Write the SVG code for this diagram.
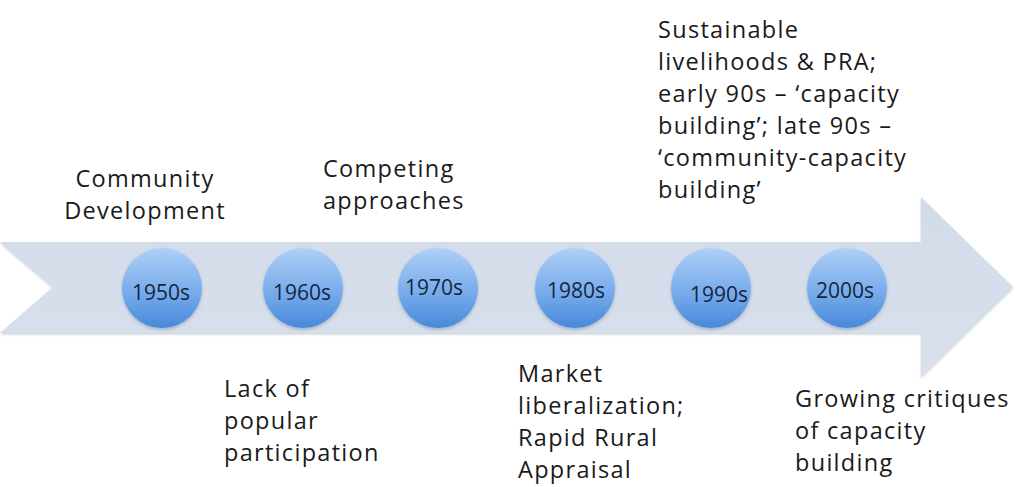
<svg xmlns="http://www.w3.org/2000/svg" width="1023" height="487" viewBox="0 0 1023 487">
  <style>
    .label { font-family: "Open Sans", "Liberation Sans", sans-serif; font-size: 23.5px; letter-spacing: 1.3px; fill: #1a1a1a; }
    .year { font-family: "Open Sans", "Liberation Sans", sans-serif; font-size: 21px; fill: #15263d; text-anchor: middle; }
    .dot { fill: url(#dotFill); filter: url(#dotShadow); }
  </style>
  <defs>
    <linearGradient id="arrowFill" x1="0" y1="0" x2="0" y2="1">
      <stop offset="0" stop-color="#d2dbe8"/>
      <stop offset="1" stop-color="#d8e0ec"/>
    </linearGradient>
    <linearGradient id="dotFill" x1="0" y1="0" x2="0" y2="1">
      <stop offset="0" stop-color="#aecff7"/>
      <stop offset="0.55" stop-color="#78aceb"/>
      <stop offset="1" stop-color="#4689d9"/>
    </linearGradient>
    <filter id="dotShadow" x="-20%" y="-20%" width="140%" height="150%">
      <feDropShadow dx="0" dy="2" stdDeviation="1.5" flood-color="#3a5070" flood-opacity="0.3"/>
    </filter>
    <filter id="arrowShadow" x="-5%" y="-10%" width="110%" height="125%">
      <feDropShadow dx="0" dy="1.5" stdDeviation="1" flood-color="#6b7a90" flood-opacity="0.35"/>
    </filter>
  </defs>

  <rect width="1023" height="487" fill="#ffffff"/>

  <!-- timeline arrow -->
  <g id="connectors">
    <polygon points="0,242 921,242 921,197 1013,287 921,377 921,333 0,333 53,287" fill="url(#arrowFill)" filter="url(#arrowShadow)"/>
  </g>

  <!-- decade markers -->
  <g id="d1950s">
    <circle class="dot" cx="162" cy="288" r="40"/>
    <text class="year" x="161" y="300">1950s</text>
  </g>
  <g id="d1960s">
    <circle class="dot" cx="303" cy="288" r="40"/>
    <text class="year" x="302" y="300">1960s</text>
  </g>
  <g id="d1970s">
    <circle class="dot" cx="438" cy="288" r="40"/>
    <text class="year" x="434" y="295">1970s</text>
  </g>
  <g id="d1980s">
    <circle class="dot" cx="575" cy="288" r="40"/>
    <text class="year" x="576" y="298">1980s</text>
  </g>
  <g id="d1990s">
    <circle class="dot" cx="711" cy="288" r="40"/>
    <text class="year" x="719" y="302">1990s</text>
  </g>
  <g id="d2000s">
    <circle class="dot" cx="847" cy="288" r="40"/>
    <text class="year" x="845" y="298">2000s</text>
  </g>

  <!-- era descriptions above the line -->
  <g id="community-development">
    <text class="label" text-anchor="middle"><tspan x="145" y="187">Community</tspan><tspan x="145" y="219">Development</tspan></text>
  </g>
  <g id="competing-approaches">
    <text class="label"><tspan x="323" y="177">Competing</tspan><tspan x="323" y="209">approaches</tspan></text>
  </g>
  <g id="sustainable-livelihoods">
    <text class="label">
      <tspan x="658" y="38">Sustainable</tspan>
      <tspan x="658" y="70">livelihoods &amp; PRA;</tspan>
      <tspan x="658" y="102">early 90s – ‘capacity</tspan>
      <tspan x="658" y="134">building’; late 90s –</tspan>
      <tspan x="658" y="166">‘community-capacity</tspan>
      <tspan x="658" y="198">building’</tspan>
    </text>
  </g>

  <!-- era descriptions below the line -->
  <g id="lack-of-participation">
    <text class="label"><tspan x="224" y="397">Lack of</tspan><tspan x="224" y="429">popular</tspan><tspan x="224" y="461">participation</tspan></text>
  </g>
  <g id="market-liberalization">
    <text class="label"><tspan x="518" y="382">Market</tspan><tspan x="518" y="414">liberalization;</tspan><tspan x="518" y="446">Rapid Rural</tspan><tspan x="518" y="478">Appraisal</tspan></text>
  </g>
  <g id="growing-critiques">
    <text class="label"><tspan x="795" y="407">Growing critiques</tspan><tspan x="795" y="439">of capacity</tspan><tspan x="795" y="471">building</tspan></text>
  </g>
</svg>
